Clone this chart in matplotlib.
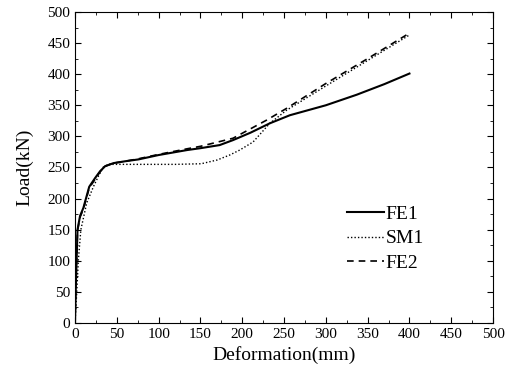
import matplotlib.pyplot as plt
from matplotlib.ticker import MultipleLocator

plt.rcParams['font.family'] = ['Liberation Serif', 'DejaVu Serif']

# FE1 (solid)
fe1_x = [0, 1, 3, 6, 10, 17, 24, 30, 36, 46, 60, 76, 100, 134, 150, 173, 189, 210, 233, 257, 300, 337, 370, 400]
fe1_y = [0, 60, 150, 172, 185, 219, 233, 244, 252, 257, 260, 263, 270, 278, 281, 286, 294, 306, 321, 334, 350, 367, 384, 401]

# SM1 (dotted)
sm1_x = [0, 2, 4, 7, 14, 22, 28, 34, 40, 80, 120, 151, 170, 185, 197, 213, 233, 253, 300, 350, 400]
sm1_y = [0, 48, 101, 150, 193, 219, 236, 251, 255, 255, 255, 256, 262, 270, 278, 291, 321, 342, 381, 422, 463]

# FE2 (dashed)
fe2_x = [0, 1, 3, 6, 10, 17, 24, 30, 36, 46, 60, 76, 100, 134, 150, 189, 229, 253, 300, 350, 400]
fe2_y = [0, 60, 148, 170, 183, 217, 231, 243, 252, 257, 260, 264, 271, 280, 284, 297, 326, 345, 385, 425, 466]

fig = plt.figure(figsize=(5.12, 3.74), dpi=100)
ax = fig.add_axes([0.1465, 0.1364, 0.8165, 0.8316])

ax.plot(fe1_x, fe1_y, color='black', lw=1.5, label='FE1')
ax.plot(sm1_x, sm1_y, color='black', lw=1.0, ls=(0, (1, 1.5)), label='SM1')
ax.plot(fe2_x, fe2_y, color='black', lw=1.2, ls=(0, (4, 3)), label='FE2')

ax.set_xlim(0, 500)
ax.set_ylim(0, 500)
ax.xaxis.set_major_locator(MultipleLocator(50))
ax.xaxis.set_minor_locator(MultipleLocator(25))
ax.yaxis.set_major_locator(MultipleLocator(50))
ax.yaxis.set_minor_locator(MultipleLocator(25))
ax.tick_params(which='both', direction='in', top=True, right=True, labelsize=11)
ax.tick_params(which='major', length=4)
ax.tick_params(which='minor', length=2)

ax.set_xlabel('Deformation(mm)', fontsize=14, labelpad=4)
ax.set_ylabel('Load(kN)', fontsize=14, labelpad=10)

ax.legend(loc='upper left', bbox_to_anchor=(0.65, 0.378), frameon=False, fontsize=14,
          handlelength=1.9, handletextpad=0.1, labelspacing=0.35, borderpad=0,
          borderaxespad=0)

fig.savefig('out.png', dpi=100)
